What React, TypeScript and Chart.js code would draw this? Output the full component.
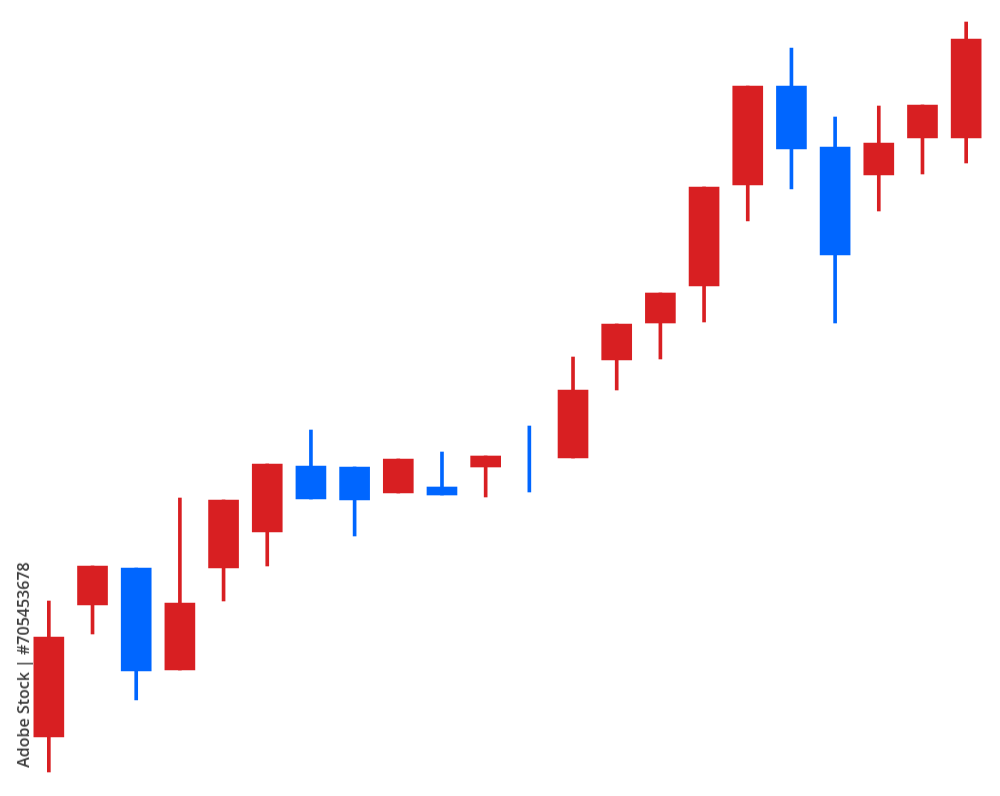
import React, { useEffect, useRef } from "react";
import { Chart, registerables } from "chart.js";

Chart.register(...registerables);

const sessions = [
  "1", "2", "3", "4", "5", "6", "7", "8", "9", "10", "11",
  "12", "13", "14", "15", "16", "17", "18", "19", "20", "21", "22",
];
const opens = [63, 195, 232, 130, 232, 268, 334, 333, 307, 313, 333, 340, 342, 440, 477, 514, 615, 714, 653, 625, 662, 662];
const highs = [199, 234, 232, 302, 300, 336, 370, 333, 341, 348, 344, 374, 443, 476, 507, 613, 714, 752, 683, 694, 695, 778];
const lows = [28, 166, 100, 130, 199, 234, 301, 264, 307, 305, 303, 308, 342, 410, 441, 478, 579, 611, 477, 589, 626, 637];
const closes = [163, 234, 129, 197, 300, 336, 301, 300, 341, 305, 344, 340, 410, 476, 507, 613, 714, 651, 545, 657, 695, 761];

const UP = "#d81f22";
const DOWN = "#0066ff";

export default function App() {
  const ref = useRef<HTMLCanvasElement | null>(null);

  useEffect(() => {
    if (!ref.current) return;
    const colors = opens.map((o, i) => (closes[i] > o ? UP : DOWN));
    const chart = new Chart(ref.current, {
      type: "bar",
      data: {
        labels: sessions,
        datasets: [
          {
            label: "wick",
            data: lows.map((l, i) => [l, highs[i]]),
            backgroundColor: colors,
            borderWidth: 0,
            borderSkipped: false,
            barThickness: 3,
            grouped: false,
            order: 2,
          } as any,
          {
            label: "body",
            data: opens.map((o, i) => (o === closes[i] ? null : [o, closes[i]])),
            backgroundColor: colors,
            borderWidth: 0,
            borderSkipped: false,
            barThickness: 30,
            grouped: false,
            order: 1,
          } as any,
        ],
      },
      options: {
        responsive: false,
        animation: false,
        layout: { padding: { left: 27, right: 12, top: 0, bottom: 0 } },
        plugins: { legend: { display: false }, tooltip: { enabled: false } },
        scales: {
          x: { display: false, offset: true, grid: { display: false } },
          y: { display: false, min: 4, max: 800, grid: { display: false } },
        },
      },
    });
    return () => chart.destroy();
  }, []);

  return (
    <div style={{ position: "absolute", left: 0, top: 0, width: 1000, height: 796, background: "#fff" }}>
      <canvas ref={ref} width={1000} height={796} style={{ display: "block" }} />
      <div
        style={{
          position: "absolute",
          left: 23,
          top: 665,
          transform: "translate(-50%, -50%) rotate(-90deg)",
          whiteSpace: "nowrap",
          fontFamily: "'Open Sans', sans-serif",
          fontSize: 16,
          fontWeight: 600,
          color: "#3a3a3a",
        }}
      >
        Adobe Stock | #705453678
      </div>
    </div>
  );
}
